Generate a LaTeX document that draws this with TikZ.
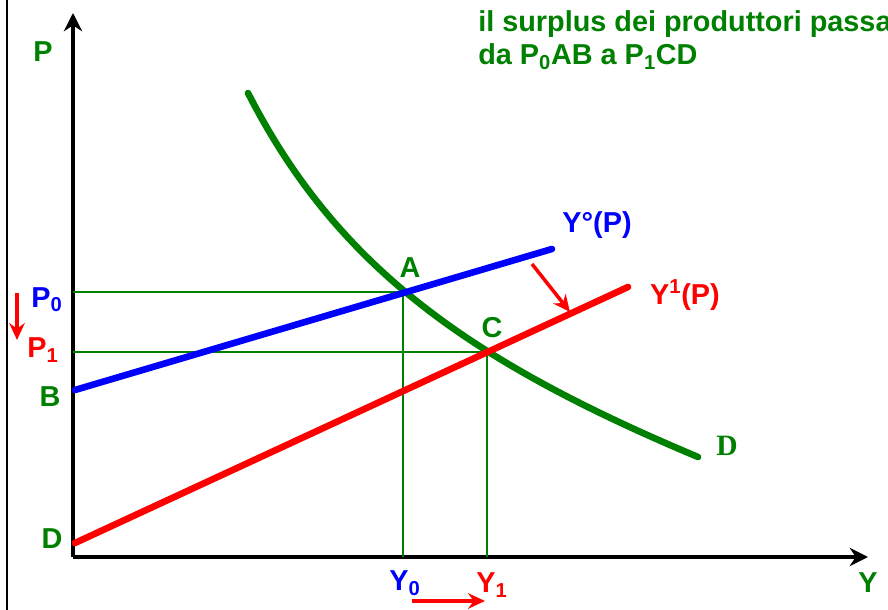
\documentclass[tikz,border=0pt]{standalone}
\usepackage{fontspec}
\setmainfont{Liberation Sans}
\newfontfamily\serifbold{Liberation Serif}
\usetikzlibrary{arrows.meta}
\definecolor{dkgreen}{RGB}{0,128,0}

\begin{document}
\begin{tikzpicture}[x=0.025cm,y=0.025cm,>={Stealth[length=12pt,width=11pt]},
  lbl/.style={inner sep=0pt,font=\fontsize{20.5}{23.5}\selectfont\bfseries},
  axis/.style={line width=3pt,-{Stealth[length=13pt,width=13pt]}},
  curve/.style={line width=4.7pt,line cap=round},
  guide/.style={dkgreen,line width=1pt},
  shiftarrow/.style={red,line width=2.5pt,->}]
\useasboundingbox (0,0) rectangle (888,610);
% frame line on the left
\coordinate (fb) at (7,0);
\coordinate (ft) at (7,610);
\draw[line width=1.4pt] (fb) -- (ft);
% axes
\coordinate (O) at (73,53);
\coordinate (Ptop) at (73,597);
\coordinate (Yend) at (868,53);
\draw[axis] (O) -- (Ptop);
\draw[axis] (O) -- (Yend);
% equilibrium points and guides
\coordinate (A) at (403,318);
\coordinate (C) at (487,258);
\coordinate (P0) at (73,318);
\coordinate (P1) at (73,258);
\coordinate (Y0) at (403,53);
\coordinate (Y1) at (487,53);
\draw[guide] (P0) -- (A) -- (Y0);
\draw[guide] (P1) -- (C) -- (Y1);
% demand curve
\coordinate (Dtop) at (248,517);
\coordinate (Dend) at (698,153);
\draw[curve,dkgreen] (Dtop) .. controls (338,341) and (472,248) .. (Dend);
% supply curves
\coordinate (Bs) at (75,220);
\coordinate (Be) at (552,361);
\coordinate (Ds) at (75,67);
\coordinate (De) at (628,323);
\draw[curve,blue] (Bs) -- (Be);
\draw[curve,red] (Ds) -- (De);
% shift arrows
\coordinate (s1) at (532,346);
\coordinate (s2) at (570,298);
\draw[shiftarrow] (s1) -- (s2);
\coordinate (p1) at (17,317);
\coordinate (p2) at (17,270);
\draw[shiftarrow] (p1) -- (p2);
\coordinate (y1) at (412,9);
\coordinate (y2) at (485,9);
\draw[shiftarrow] (y1) -- (y2);
% labels
\node[lbl,dkgreen] (labP) at (43,558) {P};
\node[lbl,dkgreen] (labY) at (868,27) {Y};
\node[lbl,dkgreen] (labA) at (410,342) {A};
\node[lbl,dkgreen] (labC) at (492,282) {C};
\node[lbl,blue] (labYo) at (597,385) {Y°(P)};
\node[lbl,red] (labY1P) at (685,315) {Y\textsuperscript{1}(P)};
\node[inner sep=0pt,dkgreen,font=\fontsize{21}{23}\selectfont\serifbold\bfseries] (labD) at (727,164) {D};
\node[lbl,blue] (labP0) at (47,310) {P\textsubscript{0}};
\node[lbl,red] (labP1) at (43,260) {P\textsubscript{1}};
\node[lbl,dkgreen] (labB) at (50,213) {B};
\node[lbl,dkgreen] (labDD) at (52,71) {D};
\node[lbl,blue] (labY0) at (405,27) {Y\textsubscript{0}};
\node[lbl,red] (labY1) at (492,25) {Y\textsubscript{1}};
\node[lbl,anchor=base west,dkgreen,align=left] (note) at (478,545)
  {il surplus dei produttori passa\\da P\textsubscript{0}AB a P\textsubscript{1}CD};
\end{tikzpicture}
\end{document}
